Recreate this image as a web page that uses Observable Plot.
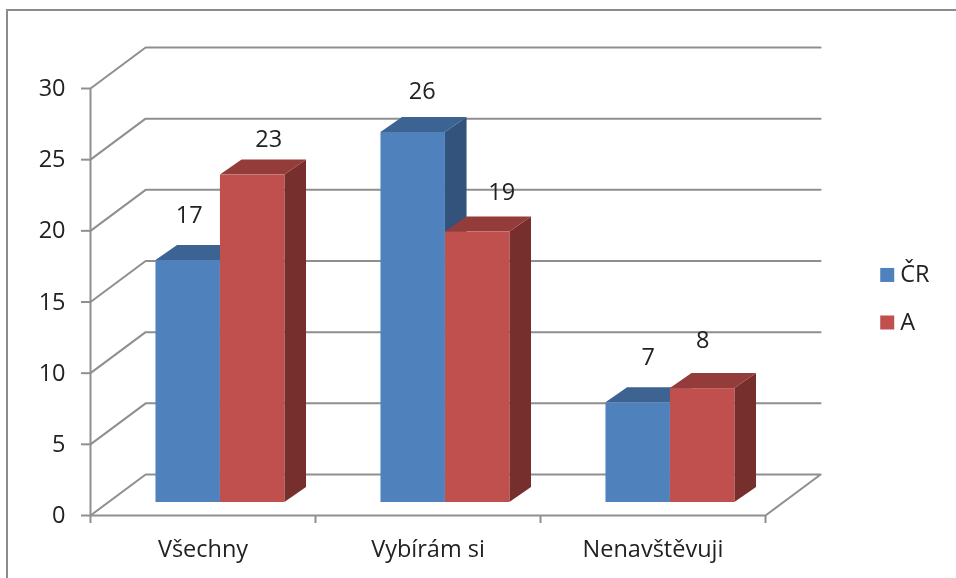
<!DOCTYPE html>
<html>
<head>
<meta charset="utf-8">
<script src="https://cdn.jsdelivr.net/npm/d3@7"></script>
<script src="https://cdn.jsdelivr.net/npm/@observablehq/plot@0.6"></script>
<style>
  html, body { margin: 0; padding: 0; background: #fff; overflow: hidden; }
  #frame { position: absolute; left: 6px; top: 9px; right: -10px; bottom: -10px; border: 2px solid #8c8c8c; pointer-events: none; filter: blur(0.4px); }
  #chart { position: absolute; left: 0; top: 0; filter: blur(0.45px); }
</style>
</head>
<body>
<div id="chart"></div>
<div id="frame"></div>
<script>
// Data
const categories = ["Všechny", "Vybírám si", "Nenavštěvuji"];
const seriesNames = ["ČR", "A"];
const valuesCR = [17, 26, 7];
const valuesA = [23, 19, 8];
const yTicks = [0, 5, 10, 15, 20, 25, 30];

// Styles
const frontColors = ["#4f81bd", "#c0504d"];
const topColors = ["#3c6391", "#943c3a"];
const sideColors = ["#33527c", "#772f2d"];
const gridColor = "#8f8f8f";
const textColor = "#222222";
const fontSize = 23.5;

// Oblique projection, in scale units
const wall = {x: 0.245, y: 2.88};
const floor = {x: 0.0775, y: 0.914};
const depth = {x: 0.096, y: 1.054};
const barWidth = 0.2865;

// Hand placed data labels in the reference [dx, dy] from the bar's front top centre
const labelOffsets = [
  [[1, -45], [16, -36]],
  [[9, -41], [24, -40]],
  [[10, -45], [0, -48]]
];

const bars = [valuesCR, valuesA].flatMap((vals, s) =>
  vals.map((v, i) => {
    const c = i + 0.5 + floor.x;
    return {
      s, i, v, series: seriesNames[s],
      x1: c + (s - 1) * barWidth,
      x2: c + s * barWidth,
      y1: floor.y,
      y2: v + floor.y
    };
  })
);
// Draw order: left to right, blue before red within a group
bars.sort((a, b) => a.i - b.i || a.s - b.s);

const barMarks = bars.flatMap(b => [
  Plot.area(
    [{x: b.x2, lo: b.y1, hi: b.y2},
     {x: b.x2 + depth.x, lo: b.y1 + depth.y, hi: b.y2 + depth.y}],
    {x1: "x", y1: "lo", y2: "hi", fill: sideColors[b.s]}
  ),
  Plot.area(
    [{y: b.y2, lo: b.x1, hi: b.x2},
     {y: b.y2 + depth.y, lo: b.x1 + depth.x, hi: b.x2 + depth.x}],
    {y1: "y", x1: "lo", x2: "hi", fill: topColors[b.s]}
  ),
  Plot.rect([b], {x1: "x1", x2: "x2", y1: "y1", y2: "y2", fill: "series"})
]);

const gridMarks = yTicks.map(t =>
  Plot.line(
    (t === 0
      ? [[0, 0], [wall.x, wall.y], [3 + wall.x, wall.y], [3, 0]]
      : [[0, t], [wall.x, t + wall.y], [3 + wall.x, t + wall.y]]),
    {x: d => d[0], y: d => d[1], stroke: gridColor, strokeWidth: 2}
  )
);

const labelMarks = bars.map(b =>
  Plot.text([b], {
    x: d => (d.x1 + d.x2) / 2,
    y: "y2",
    text: "v",
    dx: labelOffsets[b.i][b.s][0],
    dy: labelOffsets[b.i][b.s][1],
    fill: textColor,
    fontSize
  })
);

const legendX = 3.541;
const legendY = [16.9, 13.56];
const legendRows = seriesNames.map((name, k) => ({name, y: legendY[k]}));

const chart = Plot.plot({
  width: 956,
  height: 578,
  marginLeft: 90,
  marginRight: 191,
  marginTop: 88,
  marginBottom: 63,
  style: {background: "transparent", fontFamily: "'Open Sans', sans-serif", fontSize: fontSize + "px"},
  x: {domain: [0, 3], axis: null},
  y: {domain: [0, 30], axis: null},
  color: {domain: seriesNames, range: frontColors},
  marks: [
    ...gridMarks,
    Plot.ruleX([0], {y1: 0, y2: 30, stroke: gridColor, strokeWidth: 2}),
    Plot.ruleY([0], {x1: 0, x2: 3, stroke: gridColor, strokeWidth: 2}),
    Plot.axisY({
      ticks: yTicks, tickSize: 9, tickPadding: 16, stroke: gridColor, strokeWidth: 2,
      fill: textColor, fontSize, label: null
    }),
    Plot.axisX({
      ticks: [0, 1, 2, 3], tickSize: 8, tickFormat: () => "", stroke: gridColor, strokeWidth: 2, label: null
    }),
    Plot.axisX({
      ticks: [0.5, 1.5, 2.5], tickSize: 0, tickPadding: 25, tickFormat: d => categories[Math.floor(d)],
      fill: textColor, fontSize, label: null
    }),
    ...barMarks,
    ...labelMarks,
    Plot.dot(legendRows, {x: () => legendX, y: "y", symbol: "square", r: 7.9, fill: "name"}),
    Plot.text(legendRows, {x: () => legendX, y: "y", text: "name", dx: 13, textAnchor: "start", fill: textColor, fontSize})
  ]
});
document.getElementById("chart").appendChild(chart);
</script>
</body>
</html>
